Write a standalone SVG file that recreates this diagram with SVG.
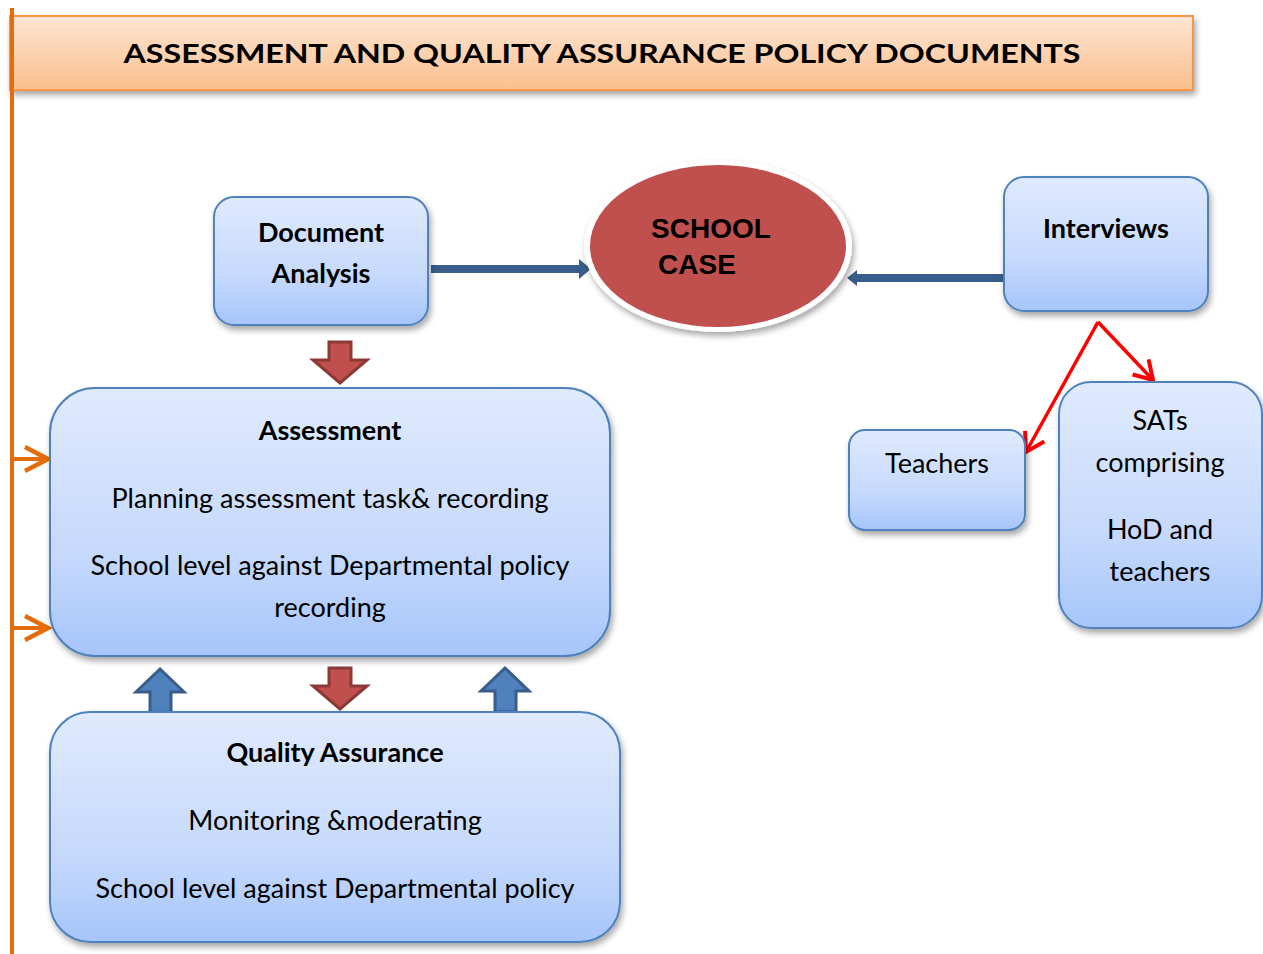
<svg xmlns="http://www.w3.org/2000/svg" width="1263" height="954" viewBox="0 0 1263 954">
<defs>
<linearGradient id="blue" x1="0" y1="0" x2="0" y2="1">
<stop offset="0" stop-color="#DFEAFD"/>
<stop offset="0.6" stop-color="#C7DAFC"/>
<stop offset="1" stop-color="#A6C5FA"/>
</linearGradient>
<linearGradient id="peach" x1="0" y1="0" x2="0" y2="1">
<stop offset="0" stop-color="#FDE6D5"/>
<stop offset="1" stop-color="#FBBF8C"/>
</linearGradient>
<filter id="sh" x="-10%" y="-10%" width="120%" height="130%">
<feDropShadow dx="2" dy="4" stdDeviation="3" flood-color="#000" flood-opacity="0.35"/>
</filter>
<marker id="blueHead" markerWidth="14" markerHeight="22" refX="0" refY="11" orient="auto" markerUnits="userSpaceOnUse">
<path d="M0,1 L12,11 L0,21 Z" fill="#385D8A"/>
</marker>
<marker id="blueHeadS" markerWidth="12" markerHeight="18" refX="0" refY="9" orient="auto" markerUnits="userSpaceOnUse">
<path d="M0,1 L10,9 L0,17 Z" fill="#385D8A"/>
</marker>
<marker id="redHead" markerWidth="26" markerHeight="26" refX="22" refY="13" orient="auto" markerUnits="userSpaceOnUse">
<path d="M4,2 L22,13 L4,24" fill="none" stroke="#FF0000" stroke-width="4"/>
</marker>
<marker id="orangeHead" markerWidth="30" markerHeight="30" refX="26" refY="15" orient="auto" markerUnits="userSpaceOnUse">
<path d="M3,3 L26,15 L3,27" fill="none" stroke="#E46C0A" stroke-width="4.5"/>
</marker>
</defs>
<style>
.box{fill:url(#blue);stroke:#4F81BD;stroke-width:2;filter:url(#sh)}
.t{font-family:Lato,"Open Sans","Liberation Sans",sans-serif;font-size:27px;fill:#000;text-anchor:middle}
.b{font-weight:bold}
.down{fill:#C0504D;stroke:#8C3836;stroke-width:3}
.up{fill:#4F81BD;stroke:#385D8A;stroke-width:3}
</style>
<rect width="1263" height="954" fill="#fff"/>

<g id="title">
<rect x="10" y="16" width="1183" height="74" fill="url(#peach)" stroke="#F79646" stroke-width="2" filter="url(#sh)"/>
<text x="602" y="63" class="t b" font-size="33" textLength="957" lengthAdjust="spacingAndGlyphs">ASSESSMENT AND QUALITY ASSURANCE POLICY DOCUMENTS</text>
</g>

<g id="connectors">
<line x1="12" y1="8" x2="12" y2="954" stroke="#E46C0A" stroke-width="4"/>
<line x1="12" y1="459" x2="48" y2="459" stroke="#E46C0A" stroke-width="4" marker-end="url(#orangeHead)"/>
<line x1="12" y1="628" x2="48" y2="628" stroke="#E46C0A" stroke-width="4" marker-end="url(#orangeHead)"/>
<line x1="431" y1="269" x2="579" y2="269" stroke="#385D8A" stroke-width="8" marker-end="url(#blueHead)"/>
<line x1="1006" y1="278" x2="857" y2="278" stroke="#385D8A" stroke-width="8" marker-end="url(#blueHeadS)"/>
<line x1="1098" y1="322" x2="1026" y2="452" stroke="#FF0000" stroke-width="3.5" marker-end="url(#redHead)"/>
<line x1="1098" y1="322" x2="1153" y2="380" stroke="#FF0000" stroke-width="3.5" marker-end="url(#redHead)"/>
<path class="down" d="M329,342 H351 V360 H367 L340,383 L313,360 H329 Z"/>
<path class="down" d="M329,668 H351 V686 H367 L340,709 L313,686 H329 Z"/>
<path class="up" d="M150,713 H171 V692 H184 L160,669 L136,692 H150 Z"/>
<path class="up" d="M495,712 H516 V691 H529 L505,668 L481,691 H495 Z"/>
</g>

<g id="document-analysis">
<rect class="box" x="214" y="197" width="214" height="128" rx="20"/>
<text class="t b" x="321" y="242">Document</text>
<text class="t b" x="321" y="283">Analysis</text>
</g>

<g id="school-case">
<ellipse cx="718" cy="246" rx="134" ry="86" fill="#fff" filter="url(#sh)"/>
<ellipse cx="718" cy="246" rx="128" ry="81" fill="#C0504D"/>
<text x="711" y="238" font-family="'Liberation Sans',Arial,sans-serif" font-weight="bold" font-size="28" text-anchor="middle">SCHOOL</text>
<text x="697" y="274" font-family="'Liberation Sans',Arial,sans-serif" font-weight="bold" font-size="28" text-anchor="middle">CASE</text>
</g>

<g id="interviews">
<rect class="box" x="1004" y="177" width="204" height="134" rx="20"/>
<text class="t b" x="1106" y="238">Interviews</text>
</g>

<g id="teachers">
<rect class="box" x="849" y="430" width="176" height="100" rx="16"/>
<text class="t" x="937" y="473">Teachers</text>
</g>

<g id="sats">
<rect class="box" x="1059" y="382" width="203" height="246" rx="32"/>
<text class="t" x="1160" y="430">SATs</text>
<text class="t" x="1160" y="472">comprising</text>
<text class="t" x="1160" y="539">HoD and</text>
<text class="t" x="1160" y="581">teachers</text>
</g>

<g id="assessment">
<rect class="box" x="50" y="388" width="560" height="268" rx="45"/>
<text class="t b" x="330" y="440">Assessment</text>
<text class="t" x="330" y="508">Planning assessment task&amp; recording</text>
<text class="t" x="330" y="575">School level against Departmental policy</text>
<text class="t" x="330" y="617">recording</text>
</g>

<g id="quality-assurance">
<rect class="box" x="50" y="712" width="570" height="230" rx="40"/>
<text class="t b" x="335" y="762">Quality Assurance</text>
<text class="t" x="335" y="830">Monitoring &amp;moderating</text>
<text class="t" x="335" y="898">School level against Departmental policy</text>
</g>
</svg>
